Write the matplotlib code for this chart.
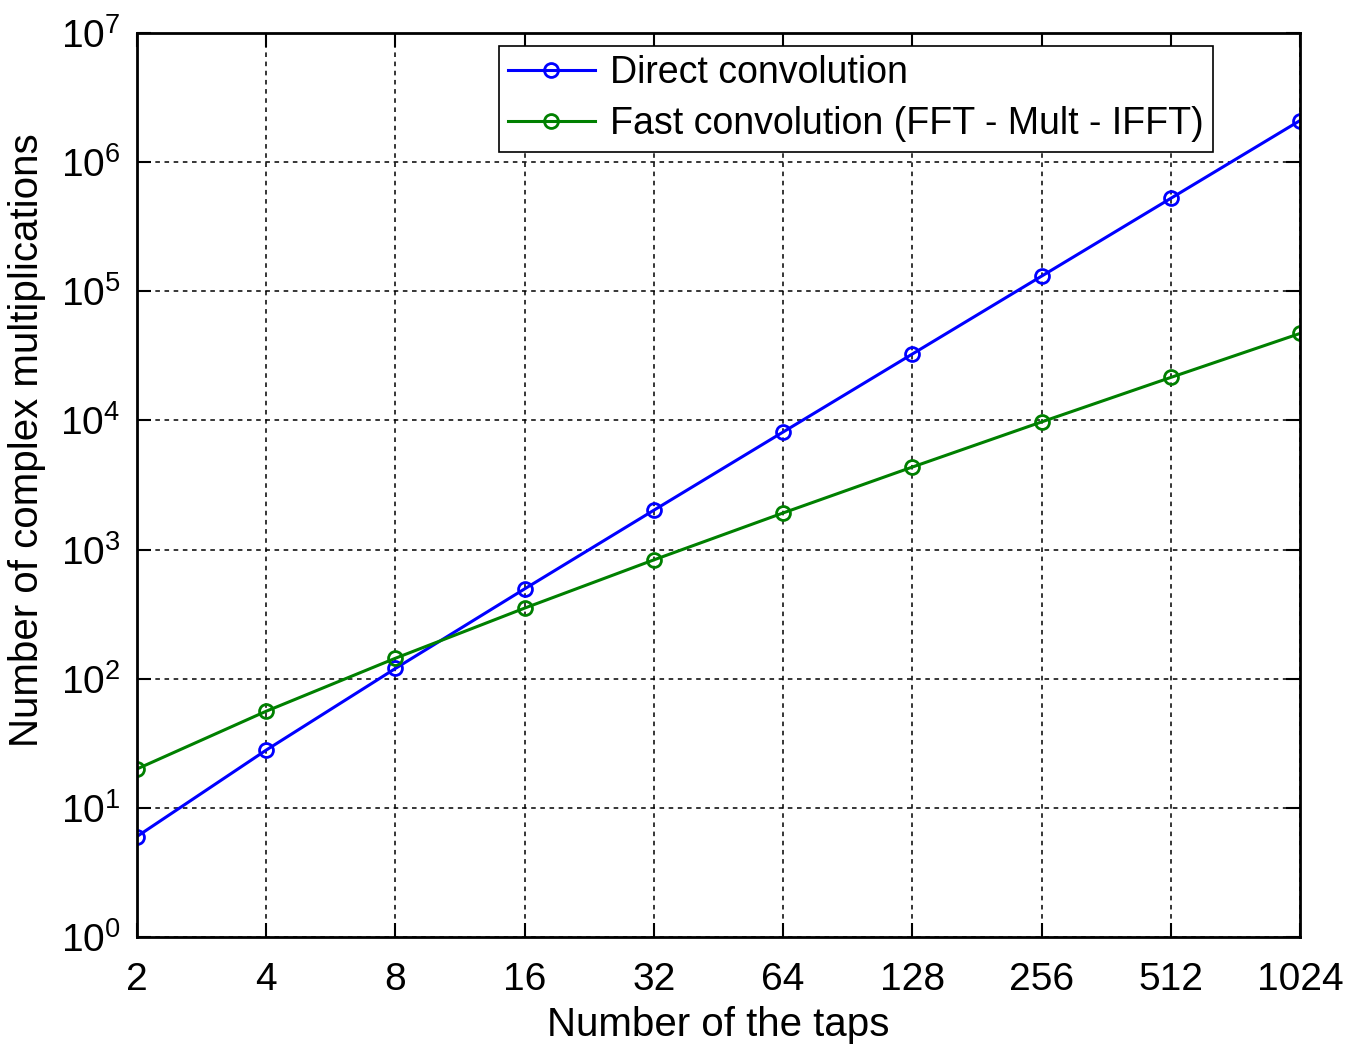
import matplotlib
matplotlib.use("Agg")
import matplotlib.pyplot as plt
from matplotlib.ticker import FixedLocator, FixedFormatter, NullLocator

plt.rcParams['font.family'] = ['Liberation Sans', 'DejaVu Sans']
plt.rcParams['mathtext.fontset'] = 'custom'
plt.rcParams['mathtext.rm'] = 'Liberation Sans'
plt.rcParams['mathtext.default'] = 'regular'

taps = [2, 4, 8, 16, 32, 64, 128, 256, 512, 1024]
tap_labels = ["2", "4", "8", "16", "32", "64", "128", "256", "512", "1024"]
direct = [6, 28, 120, 496, 2016, 8128, 32640, 130816, 523776, 2096128]
fast = [20, 56, 144, 352, 832, 1920, 4352, 9728, 21504, 47104]

fig = plt.figure(figsize=(13.52, 10.46), dpi=100)
ax = fig.add_axes([0.1013, 0.1042, 0.8602, 0.8643])

ax.plot(taps, direct, color=(0, 0, 1), lw=2.2, marker='o', ms=10,
        mfc='none', mew=2.0, label="Direct convolution")
ax.plot(taps, fast, color=(0, 0.5, 0), lw=2.2, marker='o', ms=10,
        mfc='none', mew=2.0, label="Fast convolution (FFT - Mult - IFFT)")

ax.set_xscale('log', base=2)
ax.set_yscale('log')
ax.set_xlim(2, 1024)
ax.set_ylim(1, 1e7)

ax.xaxis.set_major_locator(FixedLocator(taps))
ax.xaxis.set_major_formatter(FixedFormatter(tap_labels))
ax.xaxis.set_minor_locator(NullLocator())
ax.yaxis.set_major_locator(FixedLocator([10.0**k for k in range(8)]))
ax.yaxis.set_minor_locator(NullLocator())

ax.tick_params(which='major', direction='in', length=10, width=1.5,
               top=True, right=True, labelsize=28)
ax.tick_params(axis='x', pad=18)
ax.tick_params(axis='y', pad=12)
for s in ax.spines.values():
    s.set_linewidth(2.0)

ax.grid(True, color='black', linestyle=(0, (3, 3)), linewidth=1.1)

ax.set_xlabel("Number of the taps", fontsize=29, labelpad=6)
ax.set_ylabel("Number of complex multiplications", fontsize=29, labelpad=10)
ax.yaxis.label.set_y(0.55)

leg = ax.legend(loc='upper right', bbox_to_anchor=(0.925, 0.9856),
                fontsize=27, fancybox=False, framealpha=1, edgecolor='black',
                handlelength=2.3, handletextpad=0.4, borderpad=0.25,
                labelspacing=0.4, borderaxespad=0)
leg.get_frame().set_linewidth(1.2)

fig.savefig("out.png", dpi=100)
